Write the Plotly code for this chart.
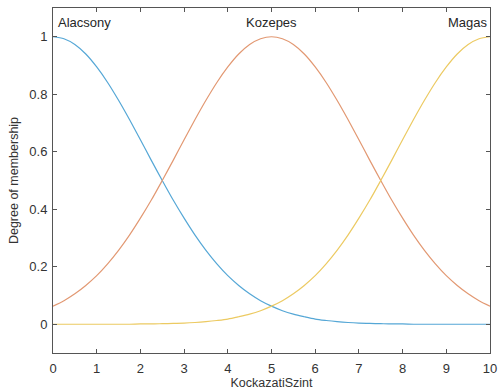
import plotly.graph_objects as go

# Input variable universe: KockazatiSzint (0..10), sampled every 0.25
x_vals = [0, 0.25, 0.5, 0.75, 1, 1.25, 1.5, 1.75, 2, 2.25, 2.5, 2.75, 3, 3.25, 3.5, 3.75,
          4, 4.25, 4.5, 4.75, 5, 5.25, 5.5, 5.75, 6, 6.25, 6.5, 6.75, 7, 7.25, 7.5, 7.75,
          8, 8.25, 8.5, 8.75, 9, 9.25, 9.5, 9.75, 10]

# Membership degrees of the three fuzzy sets
alacsony = [1.000, 0.993, 0.973, 0.940, 0.895, 0.841, 0.779, 0.712, 0.642, 0.570, 0.500,
            0.432, 0.369, 0.310, 0.257, 0.210, 0.169, 0.135, 0.106, 0.082, 0.063,
            0.047, 0.035, 0.026, 0.018, 0.013, 0.009, 0.006, 0.004, 0.003, 0.002,
            0.001, 0.001, 0.000, 0.000, 0.000, 0.000, 0.000, 0.000, 0.000, 0.000]
kozepes = [0.063, 0.082, 0.106, 0.135, 0.169, 0.210, 0.257, 0.310, 0.369, 0.432, 0.500,
           0.570, 0.642, 0.712, 0.779, 0.841, 0.895, 0.940, 0.973, 0.993, 1.000,
           0.993, 0.973, 0.940, 0.895, 0.841, 0.779, 0.712, 0.642, 0.570, 0.500,
           0.432, 0.369, 0.310, 0.257, 0.210, 0.169, 0.135, 0.106, 0.082, 0.063]
magas = [0.000, 0.000, 0.000, 0.000, 0.000, 0.000, 0.000, 0.000, 0.001, 0.001, 0.002,
         0.003, 0.004, 0.006, 0.009, 0.013, 0.018, 0.026, 0.035, 0.047, 0.063,
         0.082, 0.106, 0.135, 0.169, 0.210, 0.257, 0.310, 0.369, 0.432, 0.500,
         0.570, 0.642, 0.712, 0.779, 0.841, 0.895, 0.940, 0.973, 0.993, 1.000]

set_names = ["Alacsony", "Kozepes", "Magas"]
set_peaks = [0, 5, 10]
colors = ["#55a7d6", "#e29872", "#ecca62"]

x_ticks = [0, 1, 2, 3, 4, 5, 6, 7, 8, 9, 10]
y_ticks = [0, 0.2, 0.4, 0.6, 0.8, 1]
y_tick_text = ["0", "0.2", "0.4", "0.6", "0.8", "1"]

fig = go.Figure()
for name, ys, col in zip(set_names, [alacsony, kozepes, magas], colors):
    fig.add_trace(go.Scatter(x=x_vals, y=ys, mode="lines", name=name,
                             line=dict(color=col, width=1.2, shape="spline", smoothing=0.8)))

aligns = ["left", "center", "right"]
xanchors = ["left", "center", "right"]
xshift = [3, 0, 0]
for name, pk, al, xa, xs in zip(set_names, set_peaks, aligns, xanchors, xshift):
    fig.add_annotation(x=pk, y=1.05, text=name, showarrow=False, xanchor=xa,
                       yanchor="middle", align=al, xshift=xs,
                       font=dict(size=13, color="#262626"))

axis_common = dict(showline=True, linecolor="#555555", linewidth=1, mirror="ticks",
                   ticks="inside", ticklen=4, tickcolor="#555555", showgrid=False,
                   zeroline=False, automargin=False,
                   tickfont=dict(size=13, color="#333333"))

fig.update_layout(
    width=498, height=392,
    margin=dict(l=53, r=8, t=8, b=39),
    paper_bgcolor="white", plot_bgcolor="white",
    showlegend=False,
    font=dict(family="Liberation Sans, Arial, sans-serif", color="#333333"),
    xaxis=dict(range=[0, 10], tickvals=x_ticks, ticklabelstandoff=3,
               title=dict(text="KockazatiSzint", font=dict(size=12.5), standoff=3),
               **axis_common),
    yaxis=dict(range=[-0.1, 1.1], tickvals=y_ticks, ticktext=y_tick_text,
               ticklabelstandoff=2,
               title=dict(text="Degree of membership", font=dict(size=12.5), standoff=7),
               **axis_common),
)

fig.write_html("out.html")
